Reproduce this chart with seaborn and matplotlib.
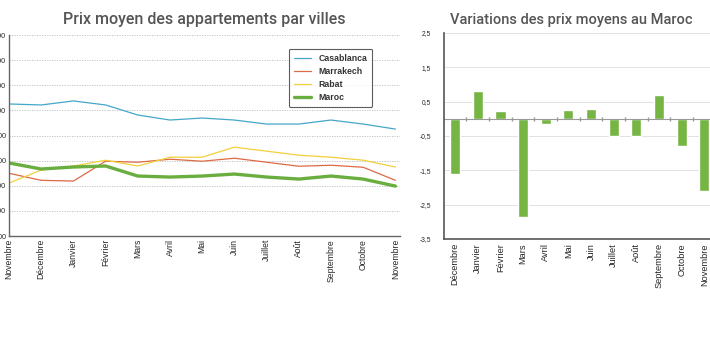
import pandas as pd
import matplotlib
matplotlib.use("Agg")
import matplotlib.pyplot as plt
import seaborn as sns
from matplotlib.ticker import FuncFormatter

# Mois (novembre -> novembre)
mois = ['Novembre', 'Décembre', 'Janvier', 'Février', 'Mars', 'Avril', 'Mai',
        'Juin', 'Juillet', 'Août', 'Septembre', 'Octobre', 'Novembre']

# Prix moyens (valeurs estimées depuis l'image)
casablanca = [8130, 8110, 8190, 8110, 7910, 7810, 7850, 7810, 7730, 7730, 7810, 7730, 7630]
marrakech = [6750, 6610, 6595, 6990, 6970, 7030, 6990, 7050, 6970, 6890, 6910, 6870, 6610]
rabat = [6555, 6815, 6895, 7010, 6895, 7070, 7070, 7270, 7190, 7110, 7070, 7010, 6875]
maroc = [6955, 6835, 6875, 6895, 6695, 6675, 6695, 6735, 6675, 6635, 6695, 6635, 6495]

# Variations mensuelles (%) au Maroc
mois_var = mois[1:]
variations = [-1.61, 0.82, 0.24, -2.87, -0.14, 0.27, 0.30, -0.49, -0.51, 0.70, -0.80, -2.09]

y_ticks_prix = [5500, 6000, 6500, 7000, 7500, 8000, 8500, 9000, 9500]
y_ticks_var = [-3.5, -2.5, -1.5, -0.5, 0.5, 1.5, 2.5]

series = {'Casablanca': casablanca, 'Marrakech': marrakech, 'Rabat': rabat, 'Maroc': maroc}
couleurs = {'Casablanca': '#43A7C9', 'Marrakech': '#DD6A45', 'Rabat': '#F2D03A', 'Maroc': '#6AAE40'}
epaisseurs = {'Casablanca': 0.9, 'Marrakech': 0.9, 'Rabat': 0.9, 'Maroc': 2.4}

df = pd.DataFrame({
    'idx': list(range(len(mois))) * len(series),
    'prix': sum(series.values(), []),
    'ville': [v for v in series for _ in mois],
})
df_var = pd.DataFrame({'mois': mois_var, 'variation': variations})

sns.set_theme(style="white")
plt.rcParams['font.family'] = ['Liberation Sans', 'DejaVu Sans']

fig = plt.figure(figsize=(7.1, 3.55), dpi=100)
ax1 = fig.add_axes([0.0127, 0.335, 0.551, 0.566])
ax2 = fig.add_axes([0.625, 0.327, 0.383, 0.580])

gris = '#555555'
titre_font = dict(family=['Roboto', 'DejaVu Sans'], color=gris, fontweight='medium')

# --- Courbes des prix ---
for ville in series:
    sns.lineplot(data=df[df.ville == ville], x='idx', y='prix', ax=ax1,
                 color=couleurs[ville], linewidth=epaisseurs[ville], label=ville)

ax1.set_xlim(0, 12.15)
ax1.set_ylim(y_ticks_prix[0], y_ticks_prix[-1])
ax1.set_yticks(y_ticks_prix)
ax1.set_xticks(range(len(mois)))
ax1.set_xticklabels(mois, rotation=90, fontsize=6.2)
ax1.tick_params(axis='y', labelsize=5.2, pad=2, length=0)
ax1.tick_params(axis='x', pad=2, length=0)
ax1.yaxis.grid(True, linestyle=(0, (1.5, 1.5)), color='#bbbbbb', linewidth=0.6)
ax1.set_xlabel('')
ax1.set_ylabel('')
for s in ['top', 'right']:
    ax1.spines[s].set_visible(False)
for s in ['left', 'bottom']:
    ax1.spines[s].set_color('#666666')
    ax1.spines[s].set_linewidth(1.0)
ax1.set_title('Prix moyen des appartements par villes', pad=8, fontsize=11.5, **titre_font)

leg = ax1.legend(loc='upper right', bbox_to_anchor=(0.94, 0.955), fontsize=6.3,
                 frameon=True, fancybox=True, handlelength=2.0, labelspacing=0.45,
                 borderpad=0.6)
leg.get_frame().set_edgecolor('#333333')
leg.get_frame().set_linewidth(0.8)
for t in leg.get_texts():
    t.set_fontweight('bold')
    t.set_color('#333333')

# --- Barres des variations ---
sns.barplot(data=df_var, x='mois', y='variation', ax=ax2, color='#76B443',
            width=0.45, saturation=1)
ax2.set_ylim(-3.5, 2.5)
ax2.set_xlim(-0.5, 11.5)
ax2.set_yticks(y_ticks_var)
ax2.yaxis.set_major_formatter(FuncFormatter(lambda v, p: f'{v:.1f}'.replace('.', ',')))
ax2.set_xticks(range(len(mois_var)))
ax2.set_xticklabels(mois_var, rotation=90, fontsize=6.6)
ax2.tick_params(axis='y', labelsize=4.8, pad=9, length=0)
ax2.tick_params(axis='x', pad=3, length=0)
ax2.yaxis.grid(True, color='#dddddd', linewidth=0.6)
ax2.set_axisbelow(True)
ax2.axhline(0, color='#999999', linewidth=0.8, zorder=1)
ax2.plot([i + 0.5 for i in range(len(mois_var))], [0] * len(mois_var), '|',
         color='#999999', markersize=3, zorder=1)
ax2.set_xlabel('')
ax2.set_ylabel('')
for s in ['top', 'right']:
    ax2.spines[s].set_visible(False)
for s in ['left', 'bottom']:
    ax2.spines[s].set_color('#555555')
    ax2.spines[s].set_linewidth(1.2)
ax2.set_title('Variations des prix moyens au Maroc', pad=6.5, fontsize=10.5, x=0.47,
              **titre_font)

fig.savefig('out.png', dpi=100)
